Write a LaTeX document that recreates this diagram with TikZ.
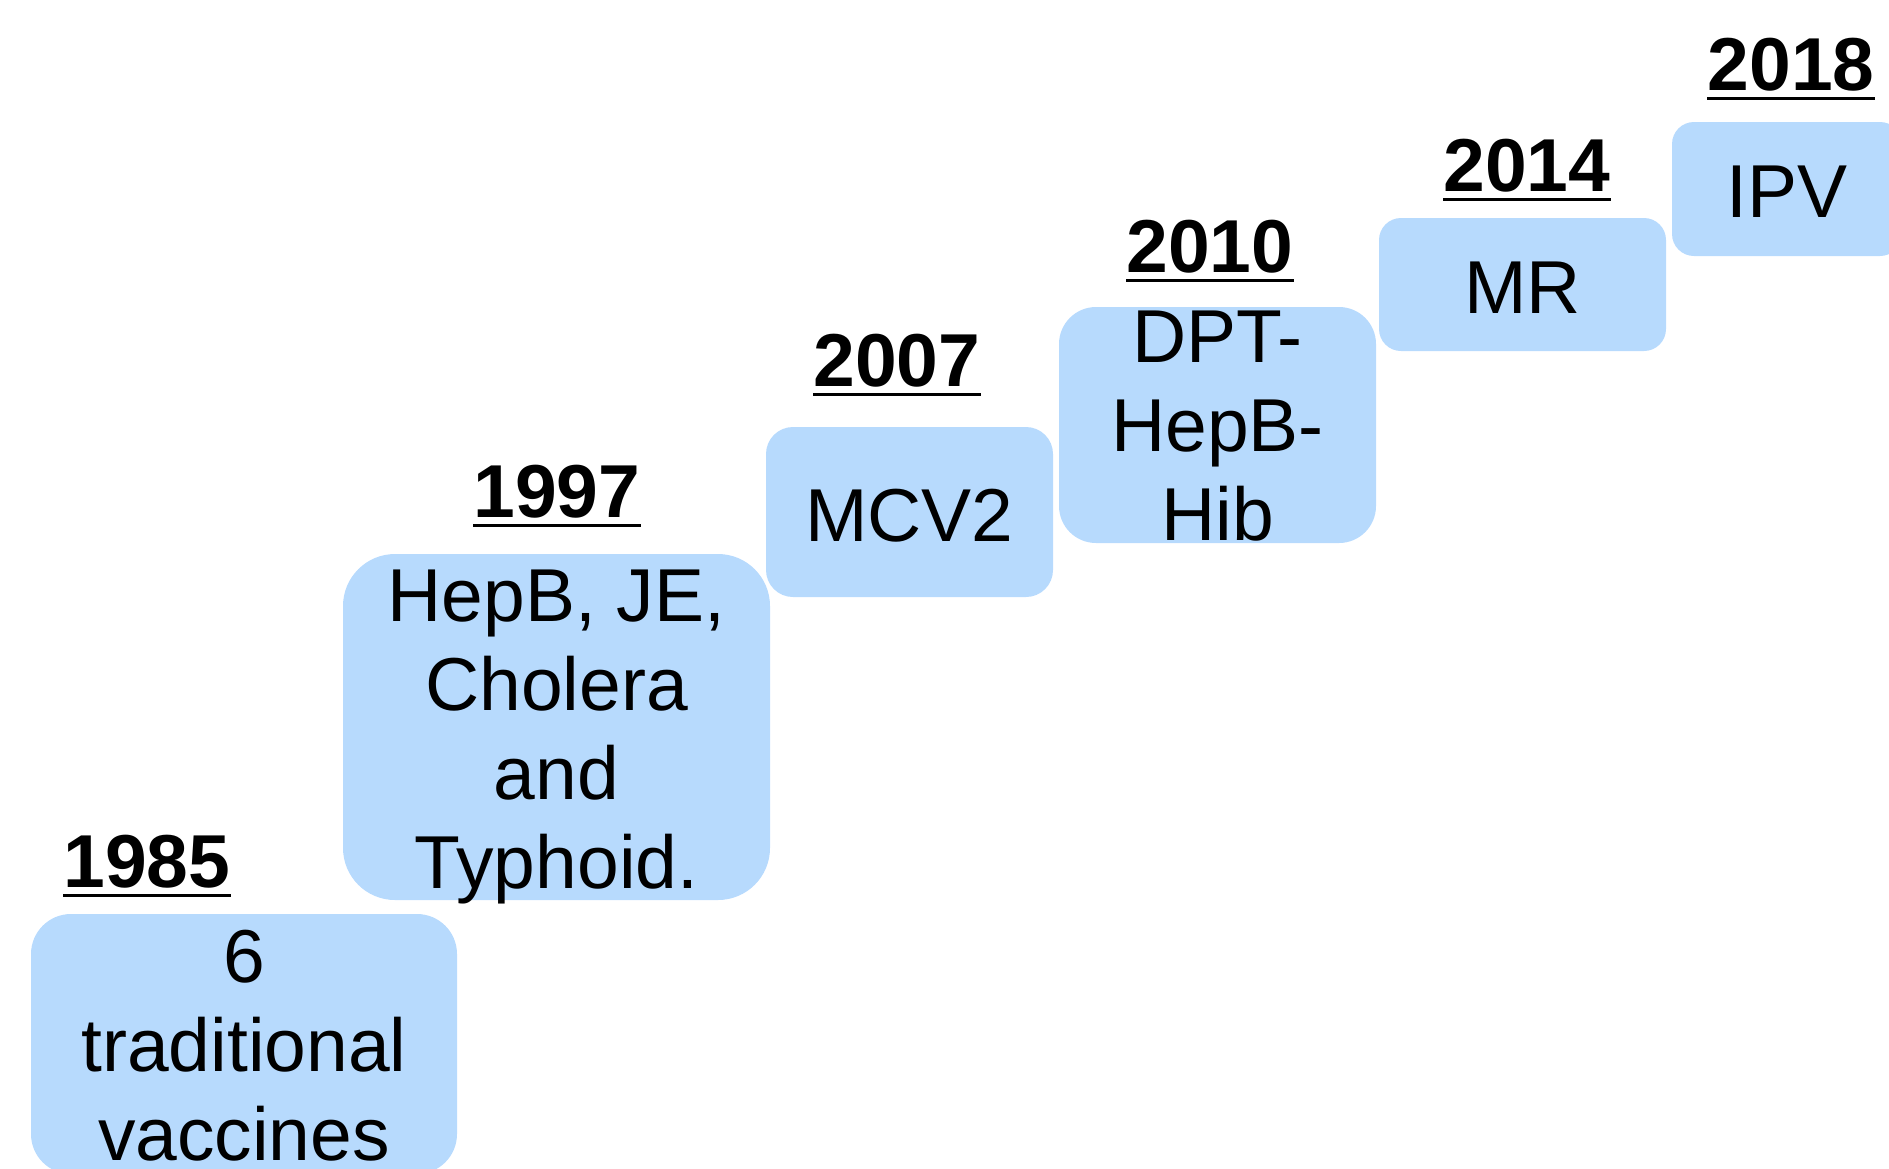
\documentclass[tikz,border=0pt]{standalone}
\usepackage{fontspec}
\setmainfont{Liberation Sans}
\definecolor{boxblue}{RGB}{183,218,253}
\begin{document}
\begin{tikzpicture}[x=1pt,y=-1pt,
  vbox/.style={fill=boxblue, draw=none, inner sep=0pt},
  vtext/.style={anchor=base, align=center, inner sep=0pt, font=\fontsize{75}{89}\selectfont},
  year/.style={anchor=base, inner sep=0pt, font=\fontsize{75}{89}\selectfont\bfseries},
  uline/.style={line width=3pt}]
\useasboundingbox (0,0) rectangle (1889,1168);
% boxes
\node[vbox, rounded corners=40pt, minimum width=426pt, minimum height=260pt] (b1) at (244,1044) {};
\node[vbox, rounded corners=52pt, minimum width=427pt, minimum height=346pt] (b2) at (556.5,727) {};
\node[vbox, rounded corners=27pt, minimum width=287pt, minimum height=170pt] (b3) at (909.5,512) {};
\node[vbox, rounded corners=37pt, minimum width=317pt, minimum height=236pt] (b4) at (1217.5,425) {};
\node[vbox, rounded corners=22pt, minimum width=287pt, minimum height=133pt] (b5) at (1522.5,284.5) {};
\node[vbox, rounded corners=22pt, minimum width=230pt, minimum height=134pt] (b6) at (1787,189) {};
% texts (anchor = baseline of the last line)
\node[vtext] (t1) at (244,1160) {6\\traditional\\vaccines};
\node[vtext] (t2) at (556.5,888) {HepB, JE,\\Cholera\\and\\Typhoid.};
\node[vtext] (t3) at (909.5,541) {MCV2};
\node[vtext] (t4) at (1217.5,540) {DPT-\\HepB-\\Hib};
\node[vtext] (t5) at (1522.5,313) {MR};
\node[vtext] (t6) at (1787,217) {IPV};
% years
\node[year] (y1) at (147,887) {1985};
\node[year] (y2) at (557,517) {1997};
\node[year] (y3) at (897,386) {2007};
\node[year] (y4) at (1210,272) {2010};
\node[year] (y5) at (1527,191) {2014};
\node[year] (y6) at (1791,90) {2018};
\foreach \y in {y1,y2,y3,y4,y5,y6}{
  \draw[uline] ([yshift=-8pt]\y.base west) -- ([yshift=-8pt]\y.base east);
}
\end{tikzpicture}
\end{document}
